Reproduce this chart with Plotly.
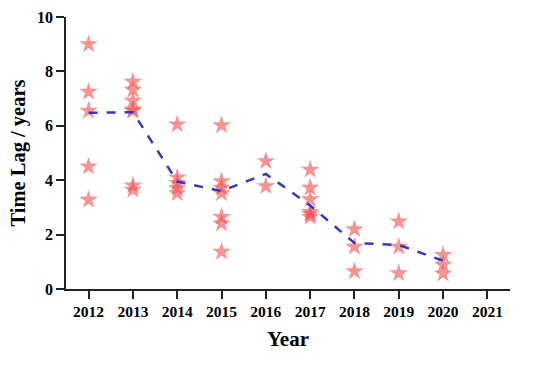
import plotly.graph_objects as go

years_x = ([2012]*5 + [2013]*7 + [2014]*5 + [2015]*7 + [2016]*2 + [2017]*6
           + [2018]*3 + [2019]*3 + [2020]*3)
lags = ([9.0, 7.25, 6.55, 4.5, 3.28]
        + [7.62, 7.32, 6.92, 6.6, 6.55, 3.8, 3.65]
        + [6.05, 4.1, 3.9, 3.7, 3.52]
        + [6.02, 3.96, 3.72, 3.52, 2.65, 2.41, 1.37]
        + [4.7, 3.78]
        + [4.38, 3.72, 3.3, 2.83, 2.75, 2.65]
        + [2.2, 1.55, 0.65]
        + [2.48, 1.55, 0.58]
        + [1.25, 0.89, 0.57])

trend_years = [2012, 2013, 2014, 2015, 2016, 2017, 2018, 2019, 2020]
trend_values = [6.48, 6.5, 3.95, 3.6, 4.23, 3.07, 1.69, 1.62, 1.04]

tick_years = [2012, 2013, 2014, 2015, 2016, 2017, 2018, 2019, 2020, 2021]
y_ticks = [0, 2, 4, 6, 8, 10]

font_family = "Liberation Serif, Times New Roman, serif"

fig = go.Figure()
fig.add_trace(go.Scatter(
    x=years_x, y=lags, mode="markers",
    marker=dict(symbol="star", size=14, color="rgba(240,80,80,0.62)",
                line=dict(width=0)),
    showlegend=False, hoverinfo="x+y"))
fig.add_trace(go.Scatter(
    x=trend_years, y=trend_values, mode="lines",
    line=dict(color="#3535c8", width=2.5, dash="dash"),
    showlegend=False))

fig.update_layout(
    width=541, height=372,
    margin=dict(l=66, r=31, t=9, b=83),
    paper_bgcolor="white", plot_bgcolor="white",
    font=dict(family=font_family, color="black"),
    xaxis=dict(
        range=[2011.49, 2021.51], tickmode="array", tickvals=tick_years,
        ticktext=[str(y) for y in tick_years],
        showgrid=False, zeroline=False, showline=True, linecolor="#222",
        linewidth=1.5, ticks="outside", ticklen=8, tickwidth=1.5, tickcolor="#222",
        tickfont=dict(size=15.5, family=font_family, weight="bold"),
        title=dict(text="<b>Year</b>", font=dict(size=21), standoff=12)),
    yaxis=dict(
        range=[0, 10], tickmode="array", tickvals=y_ticks,
        showgrid=False, zeroline=False, showline=True, linecolor="#222",
        linewidth=1.5, ticks="outside", ticklen=8, tickwidth=1.5, tickcolor="#222",
        tickfont=dict(size=16, family=font_family, weight="bold"),
        title=dict(text="<b>Time Lag / years</b>", font=dict(size=20.5), standoff=6)),
)

fig.write_html("out.html", config={"displayModeBar": False},
               post_script="document.body.style.margin='0';")
